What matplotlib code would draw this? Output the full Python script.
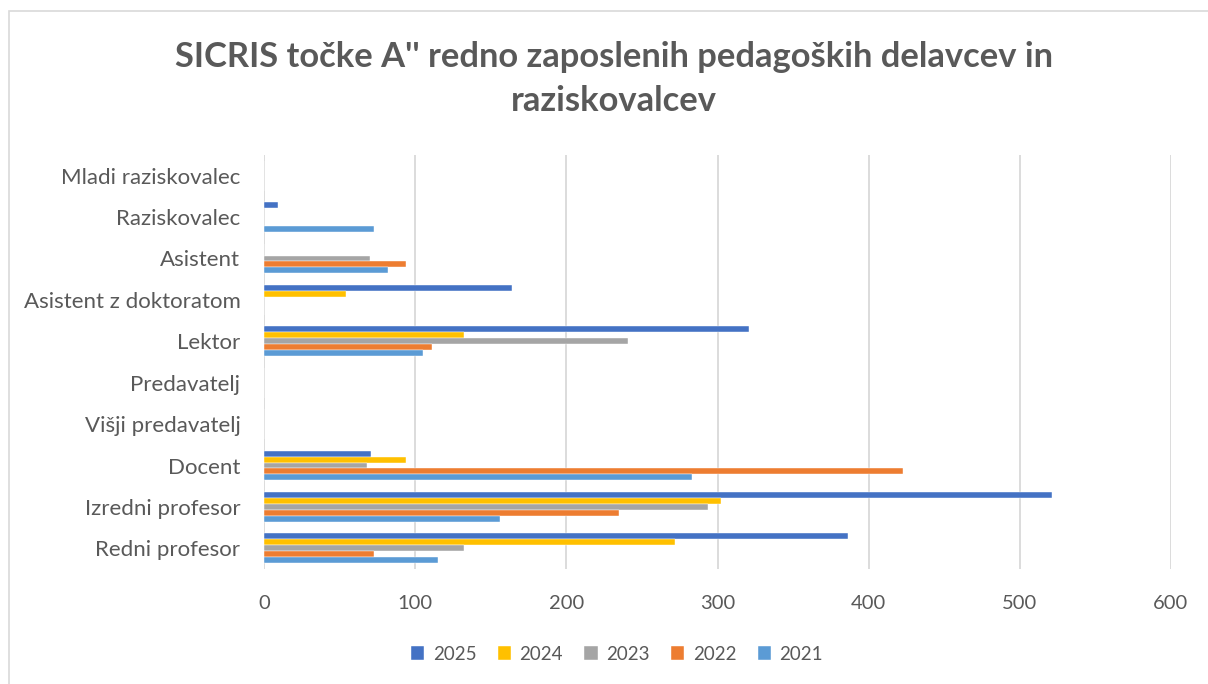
import numpy as np
import matplotlib.pyplot as plt
from matplotlib.patches import Rectangle

# categories, listed bottom to top as drawn
categories = ["Redni profesor", "Izredni profesor", "Docent", "Višji predavatelj",
              "Predavatelj", "Lektor", "Asistent z doktoratom", "Asistent",
              "Raziskovalec", "Mladi raziskovalec"]

years = ["2025", "2024", "2023", "2022", "2021"]
v2025 = [386, 521, 71, 0, 0, 321, 164, 0, 9, 0]
v2024 = [272, 302, 94, 0, 0, 132, 54, 0, 0, 0]
v2023 = [132, 294, 68, 0, 0, 241, 0, 70, 0, 0]
v2022 = [73, 235, 423, 0, 0, 111, 0, 94, 0, 0]
v2021 = [115, 156, 283, 0, 0, 105, 0, 82, 73, 0]
series = [v2025, v2024, v2023, v2022, v2021]
colors = ["#4472C4", "#FFC000", "#A5A5A5", "#ED7D31", "#5B9BD5"]

plt.rcParams['font.family'] = ['Lato', 'DejaVu Sans']
text_color = "#595959"

fig = plt.figure(figsize=(12.08, 6.84), dpi=100)
fig.patches.append(Rectangle((9 / 1208, -0.1), 1.2, 1 - 11 / 684 + 0.1,
                             transform=fig.transFigure, fill=False,
                             edgecolor="#D9D9D9", lw=1.2))

ax = fig.add_axes([264 / 1208, 1 - 569 / 684, 907 / 1208, 414 / 684])

y = np.arange(len(categories))
h = 0.143
for i, (yr, vals, c) in enumerate(zip(years, series, colors)):
    offset = (2 - i) * h
    ax.barh(y + offset, vals, height=h, color=c, label=yr, zorder=3,
            edgecolor="white", linewidth=0.3)

ax.set_xlim(0, 600)
ax.set_ylim(-0.5, len(categories) - 0.5)
ax.set_xticks(range(0, 601, 100))
ax.set_yticks(y)
ax.set_yticklabels(categories)
ax.grid(axis="x", color="#D9D9D9", lw=1.3, zorder=0)
ax.tick_params(length=0, labelsize=16, colors=text_color)
ax.tick_params(axis="y", pad=17)
ax.tick_params(axis="x", pad=19, labelsize=14.5)
for s in ax.spines.values():
    s.set_visible(False)

fig.text(614 / 1208, 1 - 79 / 684,
         "SICRIS točke A'' redno zaposlenih pedagoških delavcev in\nraziskovalcev",
         ha="center", va="center", fontsize=24.8, fontweight="bold",
         color=text_color, linespacing=1.45)

leg = fig.legend(loc="center", bbox_to_anchor=(617 / 1208, 1 - 654 / 684), ncol=5,
                 frameon=False, fontsize=13.5, handlelength=0.7, handleheight=0.7,
                 handletextpad=0.45, columnspacing=1.15, labelcolor=text_color)

fig.savefig("out.png", dpi=100)
